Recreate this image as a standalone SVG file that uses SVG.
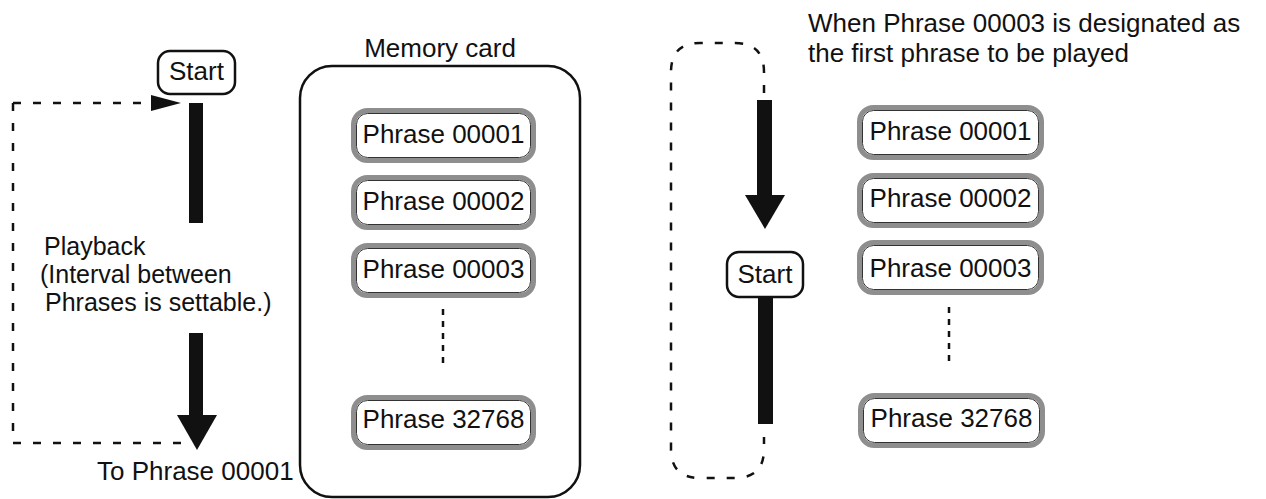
<svg xmlns="http://www.w3.org/2000/svg" width="1266" height="499" viewBox="0 0 1266 499">
<style>
text{font-family:"Liberation Sans",Arial,sans-serif;font-size:26px;fill:#111}
.lbl{font-size:25px}
.ph{fill:#fff;stroke:#8e8e8e;stroke-width:5}
.phi{fill:none;stroke:#333;stroke-width:1}
.st{fill:#fff;stroke:#111;stroke-width:2.5}
.dash{fill:none;stroke:#111;stroke-width:2.5;stroke-dasharray:8 12}
.dot{fill:none;stroke:#111;stroke-width:2.5;stroke-dasharray:6 6}
.bar{fill:#111}
</style>
<rect width="1266" height="499" fill="#fff"/>

<g id="connectors">
  <path class="dash" d="M13,103 H145 M13,103 V443 H182"/>
  <polygon class="bar" points="151,95 181,103 151,111"/>
  <rect class="bar" x="189" y="103" width="14" height="120"/>
  <rect class="bar" x="189" y="333" width="14" height="83"/>
  <polygon class="bar" points="177,415 217,415 197,450"/>
  <path class="dash" d="M764,93 V72 Q764,43 735,43 H700 Q671,43 671,72 V449 Q671,478 700,478 H735 Q764,478 764,449 V437"/>
  <rect class="bar" x="757" y="100" width="15" height="96"/>
  <polygon class="bar" points="745,195 785,195 765,229"/>
  <rect class="bar" x="758" y="297" width="15" height="127"/>
  <path class="dot" d="M443,309 V368"/>
  <path class="dot" d="M949,307 V367"/>
</g>

<g id="start-left">
  <rect class="st" x="158" y="51" width="77" height="43" rx="12"/>
  <text x="196.5" y="80" text-anchor="middle">Start</text>
</g>

<g id="labels-left">
  <text class="lbl" x="44" y="255">Playback</text>
  <text class="lbl" x="40" y="283">(Interval between</text>
  <text class="lbl" x="45" y="311">Phrases is settable.)</text>
  <text x="97" y="480">To Phrase 00001</text>
</g>

<g id="memory-card">
  <text x="440" y="57" text-anchor="middle">Memory card</text>
  <rect x="300" y="66" width="280" height="431" rx="32" fill="none" stroke="#111" stroke-width="2.5"/>
</g>

<g id="phrase-l1">
  <rect class="ph" x="353.5" y="110.5" width="180" height="50" rx="14"/>
  <rect class="phi" x="356.5" y="113.5" width="174" height="44" rx="11"/>
  <text x="443.5" y="143" text-anchor="middle">Phrase 00001</text>
</g>
<g id="phrase-l2">
  <rect class="ph" x="353.5" y="177.5" width="180" height="50" rx="14"/>
  <rect class="phi" x="356.5" y="180.5" width="174" height="44" rx="11"/>
  <text x="443.5" y="210" text-anchor="middle">Phrase 00002</text>
</g>
<g id="phrase-l3">
  <rect class="ph" x="353.5" y="245.5" width="180" height="50" rx="14"/>
  <rect class="phi" x="356.5" y="248.5" width="174" height="44" rx="11"/>
  <text x="443.5" y="278" text-anchor="middle">Phrase 00003</text>
</g>
<g id="phrase-l4">
  <rect class="ph" x="353.5" y="397.5" width="180" height="50" rx="14"/>
  <rect class="phi" x="356.5" y="400.5" width="174" height="44" rx="11"/>
  <text x="443.5" y="428" text-anchor="middle">Phrase 32768</text>
</g>

<g id="heading-right">
  <text x="808" y="32">When Phrase 00003 is designated as</text>
  <text x="808" y="62">the first phrase to be played</text>
</g>

<g id="start-right">
  <rect class="st" x="727" y="252" width="76" height="45" rx="12"/>
  <text x="765" y="283" text-anchor="middle">Start</text>
</g>

<g id="phrase-r1">
  <rect class="ph" x="859.5" y="107.5" width="182" height="50" rx="14"/>
  <rect class="phi" x="862.5" y="110.5" width="176" height="44" rx="11"/>
  <text x="950.5" y="140" text-anchor="middle">Phrase 00001</text>
</g>
<g id="phrase-r2">
  <rect class="ph" x="859.5" y="175.5" width="182" height="50" rx="14"/>
  <rect class="phi" x="862.5" y="178.5" width="176" height="44" rx="11"/>
  <text x="950.5" y="207" text-anchor="middle">Phrase 00002</text>
</g>
<g id="phrase-r3">
  <rect class="ph" x="859.5" y="242.5" width="182" height="50" rx="14"/>
  <rect class="phi" x="862.5" y="245.5" width="176" height="44" rx="11"/>
  <text x="950.5" y="277" text-anchor="middle">Phrase 00003</text>
</g>
<g id="phrase-r4">
  <rect class="ph" x="860.5" y="395.5" width="182" height="50" rx="14"/>
  <rect class="phi" x="863.5" y="398.5" width="176" height="44" rx="11"/>
  <text x="951.5" y="427" text-anchor="middle">Phrase 32768</text>
</g>
</svg>
